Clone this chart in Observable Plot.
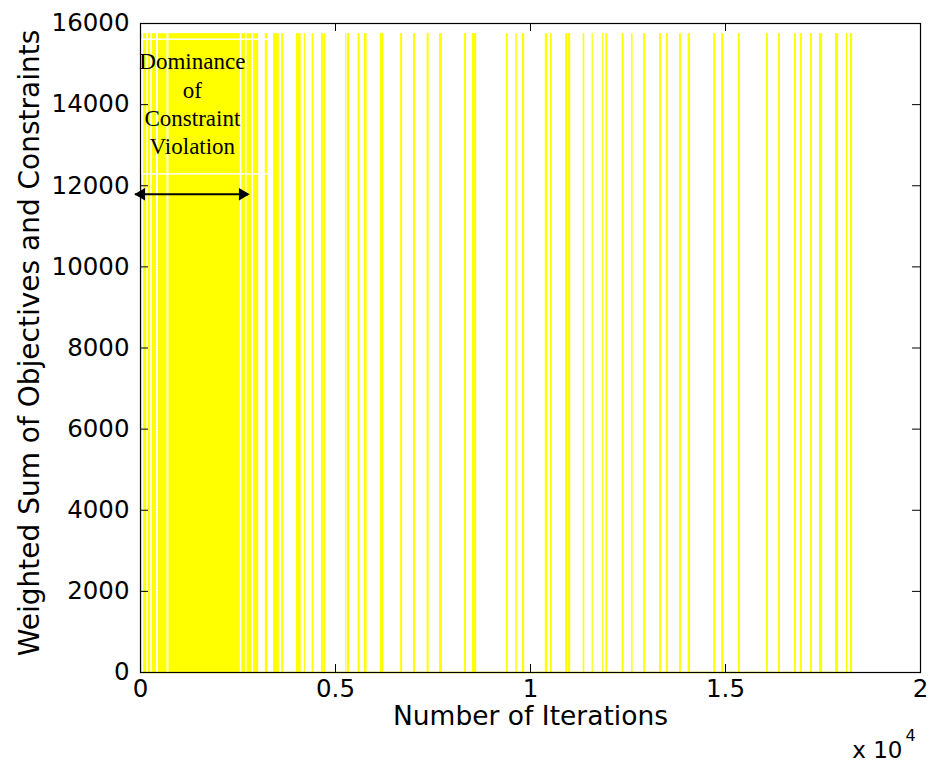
<!DOCTYPE html>
<html><head><meta charset="utf-8">
<script src="https://cdn.jsdelivr.net/npm/d3@7"></script>
<script src="https://cdn.jsdelivr.net/npm/@observablehq/plot@0.6"></script>
<style>body{margin:0;background:#fff}</style>
</head><body><div id="chart"></div>
<script>
// Iteration intervals where the weighted sum sits at its high value
const spikeStart = [0, 80, 200, 300, 460, 730, 2600, 2730, 2900, 3200, 3410, 3620,
  4000, 4200, 4400, 4640, 4710, 5260, 5300, 5580, 5740, 6150, 6670, 7000, 7350, 7670,
  8310, 8510, 9380, 9620, 9790, 10380, 10510, 10900, 10970, 11350, 11580,
  11850, 11930, 12350, 12590, 12900, 13310, 13490, 13820, 14040, 14700, 14900, 15330,
  16050, 16360, 16770, 16920, 17180, 17410, 17820, 18100, 18200];
const spikeEnd = [50, 160, 260, 410, 680, 2560, 2690, 2860, 3030, 3270, 3560, 3670,
  4120, 4230, 4450, 4690, 4750, 5280, 5360, 5630, 5810, 6240, 6720, 7050, 7400, 7740,
  8360, 8620, 9430, 9660, 9850, 10440, 10560, 10950, 11030, 11390, 11610,
  11880, 11980, 12400, 12630, 12950, 13360, 13540, 13870, 14100, 14750, 14960, 15380,
  16100, 16410, 16820, 16970, 17230, 17490, 17900, 18140, 18260];
const peakValue = 15750;
const lowValue = 0;

const xTicks = [0, 5000, 10000, 15000, 20000];
const xTickLabels = ["0", "0.5", "1", "1.5", "2"];
const yTicks = [0, 2000, 4000, 6000, 8000, 10000, 12000, 14000, 16000];

const annotationText = ["Dominance\nof\nConstraint\nViolation"];
const annotationBox = [{x1: 30, x2: 3280, y1: 12280, y2: 15600}];
const annotationPos = [{x: 1330, y: 14050}];
const arrowSpan = [{x1: -130, x2: 2770, y: 11790}];

const xLabel = "Number of Iterations";
const yLabel = "Weighted Sum of Objectives and Constraints";

const spikes = spikeStart.map((s, i) => ({x1: s, x2: spikeEnd[i], y1: lowValue, y2: peakValue}));

const sans = "'DejaVu Sans', Arial, sans-serif";

const chart = Plot.plot({
  width: 932, height: 768,
  marginLeft: 140, marginRight: 12, marginTop: 23, marginBottom: 96,
  x: {domain: [0, 20000]},
  y: {domain: [0, 16000]},
  style: {fontFamily: sans, fontSize: "24.5px", color: "black", background: "white"},
  marks: [
    Plot.rect(spikes, {x1: "x1", x2: "x2", y1: "y1", y2: "y2", fill: "#ffff00"}),
    Plot.ruleY([lowValue], {x1: 0, x2: spikeEnd[spikeEnd.length - 1], stroke: "#ffff00", strokeWidth: 1.5}),
    Plot.rect(annotationBox, {x1: "x1", x2: "x2", y1: "y1", y2: "y2", fill: "none", stroke: "white", strokeWidth: 1.5}),
    Plot.text(annotationPos, {x: "x", y: "y", text: () => annotationText[0], fontFamily: "'Liberation Serif', 'Times New Roman', serif", fontSize: 23, lineHeight: 1.22, fill: "black", textAnchor: "middle", lineAnchor: "middle"}),
    Plot.ruleY(arrowSpan, {x1: "x1", x2: "x2", y: "y", stroke: "black", strokeWidth: 2}),
    Plot.dot(arrowSpan, {x: "x2", y: "y", symbol: "triangle", r: 4.6, rotate: 90, dx: -6, fill: "black", stroke: "none"}),
    Plot.dot(arrowSpan, {x: "x1", y: "y", symbol: "triangle", r: 4.6, rotate: -90, dx: 6, fill: "black", stroke: "none"}),
    Plot.tickX(xTicks.slice(1, -1), {x: d => d, insetTop: 641, stroke: "black"}),
    Plot.tickX(xTicks.slice(1, -1), {x: d => d, insetBottom: 641, stroke: "black"}),
    Plot.tickY(yTicks.slice(1, -1), {y: d => d, insetRight: 772, stroke: "black"}),
    Plot.tickY(yTicks.slice(1, -1), {y: d => d, insetLeft: 772, stroke: "black"}),
    Plot.frame({stroke: "black", strokeWidth: 1.2}),
    Plot.axisX(xTicks, {tickSize: 0, tickPadding: 7, tickFormat: d => xTickLabels[xTicks.indexOf(d)], label: null}),
    Plot.axisY(yTicks, {tickSize: 0, tickPadding: 11, tickFormat: d => String(d), label: null}),
    Plot.text([xLabel], {frameAnchor: "bottom", dy: 44, text: d => d, textAnchor: "middle", lineAnchor: "middle", fontSize: 26.5}),
    Plot.text([yLabel], {frameAnchor: "left", dx: -110, dy: -5, rotate: -90, text: d => d, textAnchor: "middle", lineAnchor: "middle", fontSize: 28}),
    Plot.text(["x 10"], {frameAnchor: "bottom-right", dx: -18, dy: 78, text: d => d, textAnchor: "end", lineAnchor: "middle", fontSize: 23}),
    Plot.text(["4"], {frameAnchor: "bottom-right", dx: -15, dy: 63, text: d => d, textAnchor: "start", lineAnchor: "middle", fontSize: 16})
  ]
});
document.getElementById("chart").appendChild(chart);
</script></body></html>
